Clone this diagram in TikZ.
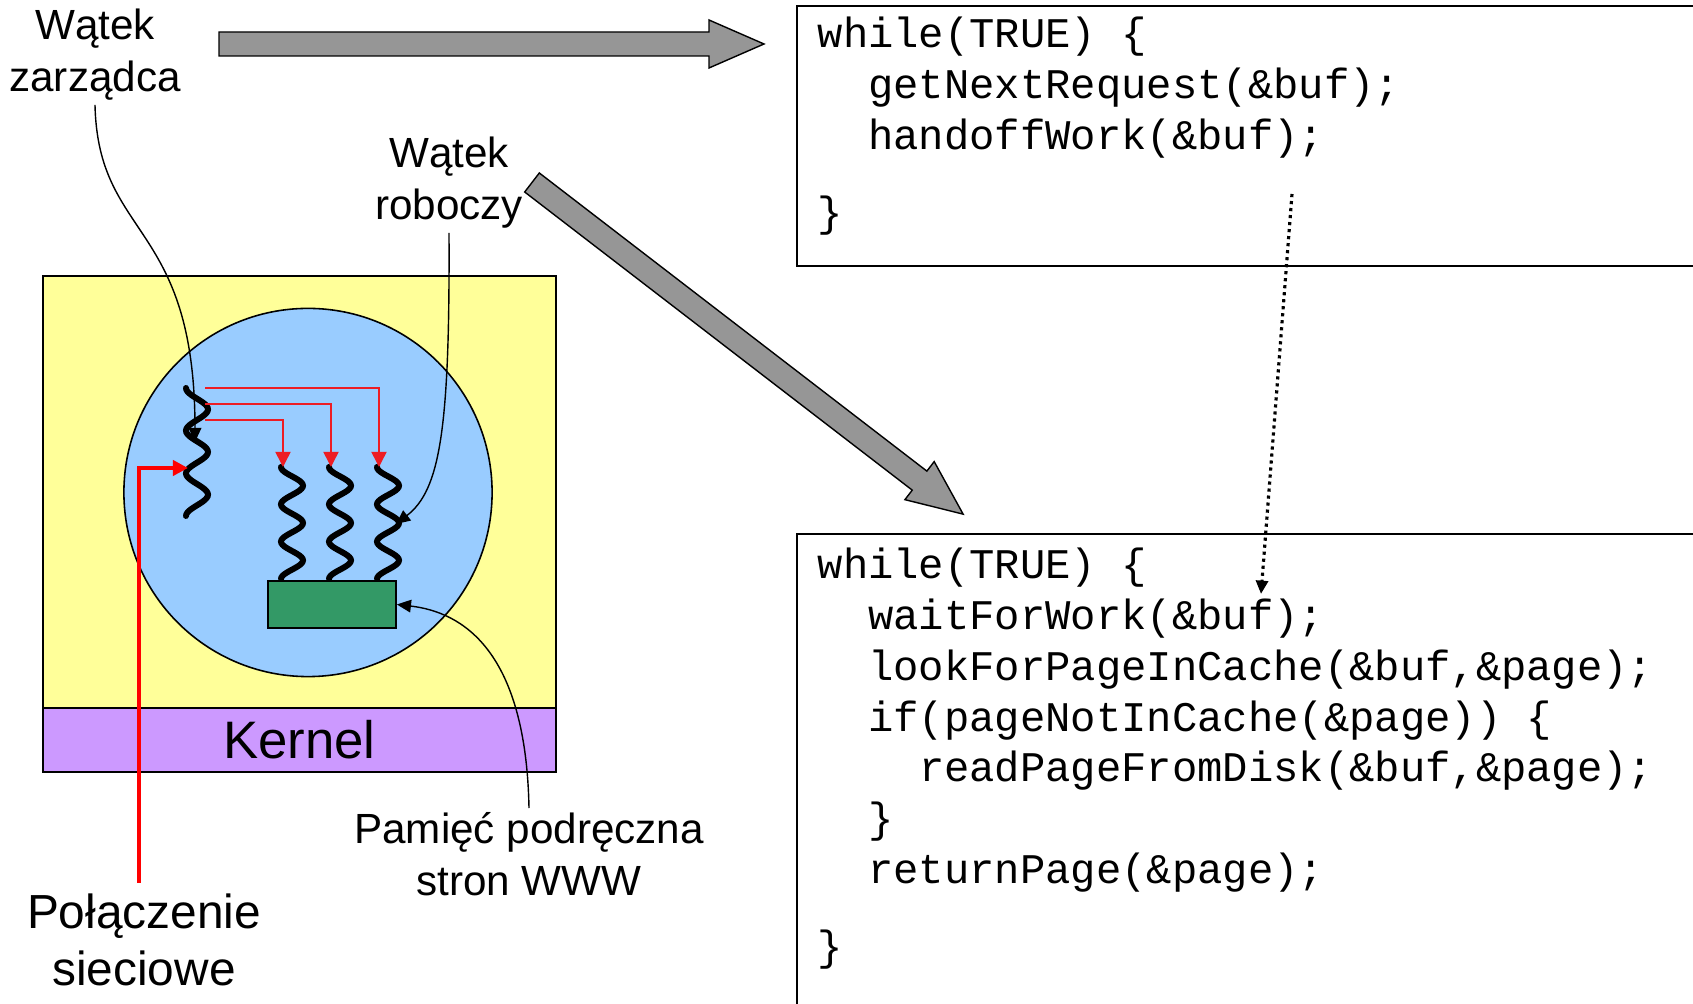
\documentclass[tikz,border=0pt]{standalone}
\usepackage{fontspec}
\setmainfont{Liberation Sans}
\setmonofont{Liberation Mono}
\usetikzlibrary{arrows.meta}

\definecolor{userfill}{RGB}{255,255,153}
\definecolor{poolfill}{RGB}{153,204,255}
\definecolor{kernfill}{RGB}{204,153,255}
\definecolor{cachefill}{RGB}{51,153,102}
\definecolor{arrowgray}{RGB}{150,150,150}
\definecolor{spawnred}{RGB}{237,28,36}

\begin{document}
\begin{tikzpicture}[
		x=0.01cm, y=-0.01cm,
		font=\fontsize{12}{14.8}\selectfont,
		label/.style     ={align=center, inner sep=1pt},
		codebox/.style   ={draw, line width=0.45pt, anchor=north west, inner sep=0pt, minimum width=9.1cm},
		codetext/.style  ={align=left, anchor=base west, inner sep=0pt, font=\ttfamily\fontsize{12}{14.5}\selectfont},
		userbox/.style   ={draw, line width=0.45pt, fill=userfill, minimum width=5.13cm, minimum height=4.32cm},
		kernelbox/.style ={draw, line width=0.45pt, fill=kernfill, minimum width=5.13cm, minimum height=0.64cm, font=\fontsize{15}{18}\selectfont},
		poolcircle/.style={draw, circle, line width=0.45pt, fill=poolfill, minimum size=3.68cm},
		cachebox/.style  ={draw, line width=0.5pt, fill=cachefill, minimum width=1.28cm, minimum height=0.47cm},
		fatbody/.style   ={draw, line width=0.4pt, fill=arrowgray, line join=miter},
		threadline/.style={line width=1.7pt, line cap=round},
		spawn/.style     ={-{Triangle[length=4.3pt, width=4.3pt]}, draw=spawnred, line width=0.45pt},
		netline/.style   ={-{Triangle[length=4.3pt, width=4.3pt]}, draw=red, line width=1.3pt},
		callout/.style   ={-{Triangle[length=4pt, width=3.6pt]}, line width=0.4pt},
		handoffline/.style={-{Triangle[length=3.8pt, width=3.4pt]}, line width=0.9pt, dash pattern=on 0.9pt off 1.1pt},
		pics/fatarrow/.style={code={
			\draw[fatbody] (0,-12) -- ({#1-55},-12) -- ({#1-55},-24) -- (#1,0) -- ({#1-55},24) -- ({#1-55},12) -- (0,12) -- cycle;
		}},
		pics/thread/.style={code={
			\draw[threadline] plot[domain=0:1, samples=73] ({11-11*cos(1080*\x)}, {#1*\x});
		}}
		]
		\useasboundingbox (0,0) rectangle (1693,1004);

		% --- Code of the two threads ---
		\node[codebox, minimum height=2.6cm]  (dispbox) at (796,5)   {};
		\node[codebox, minimum height=4.77cm] (workbox) at (796,533) {};

		% base = baseline of the last line
		\node[codetext] (dispcode) at (817,227) {while(TRUE) \{\\
			\phantom{xx}getNextRequest(\&buf);\\
			\phantom{xx}handoffWork(\&buf);\\[7.4pt]
			\}};
		\node[codetext] (workcode) at (817,961) {while(TRUE) \{\\
			\phantom{xx}waitForWork(\&buf);\\
			\phantom{xx}lookForPageInCache(\&buf,\&page);\\
			\phantom{xx}if(pageNotInCache(\&page)) \{\\
			\phantom{xxxx}readPageFromDisk(\&buf,\&page);\\
			\phantom{xx}\}\\
			\phantom{xx}returnPage(\&page);\\[7.4pt]
			\}};

		% --- Web server process ---
		\node[userbox]    (user)   at (299.5,492)   {};
		\node[kernelbox]  (kernel) at (299.5,740)   {Kernel};
		\node[poolcircle] (pool)   at (308,492.5)   {};
		\node[cachebox]   (cache)  at (332,604.5)   {};

		% threads
		\pic at (186,388) {thread=128};
		\pic at (281,467) {thread=112};
		\pic at (329,467) {thread=112};
		\pic at (377,467) {thread=112};

		\coordinate (s1)    at (205,420);
		\coordinate (s2)    at (205,404);
		\coordinate (s3)    at (205,388);
		\coordinate (w1top) at (283,467);
		\coordinate (w2top) at (331,467);
		\coordinate (w3top) at (379,467);

		\draw[spawn] (s1) -| (w1top);
		\draw[spawn] (s2) -| (w2top);
		\draw[spawn] (s3) -| (w3top);

		% --- Labels ---
		\node[label] (zarz) at (95,55)   {Wątek\\zarządca};
		\node[label] (robo) at (449,183) {Wątek\\roboczy};
		\node[label] (pam)  at (529,854) {Pamięć podręczna\\stron WWW};
		\node[label, font=\fontsize{13.6}{16}\selectfont] (siec) at (144,940) {Połączenie\\sieciowe};

		\coordinate (mgrhit)  at (195,442);
		\coordinate (w3hit)   at (396,524);
		\coordinate (mgrin)   at (188,468);
		\coordinate (netbase) at (139,883);

		\draw[callout] (zarz.south) .. controls (98,240) and (195,220) .. (mgrhit);
		\draw[callout] (robo.south) .. controls (450,430) and (440,490) .. (w3hit);
		\draw[callout] (pam.north)  .. controls (526,650) and (462,612) .. (cache.east);

		% network connection
		\draw[netline] (netbase) |- (mgrin);

		% --- Big grey arrows to the code ---
		\pic at (219,44) {fatarrow=545};
		\pic[rotate=-37.57] at (532,182.5) {fatarrow=544};

		% request handed to a worker
		\coordinate (handoff) at (1292,194);
		\coordinate (waitfor) at (1261,594);
		\draw[handoffline] (handoff) -- (waitfor);

	\end{tikzpicture}
\end{document}
